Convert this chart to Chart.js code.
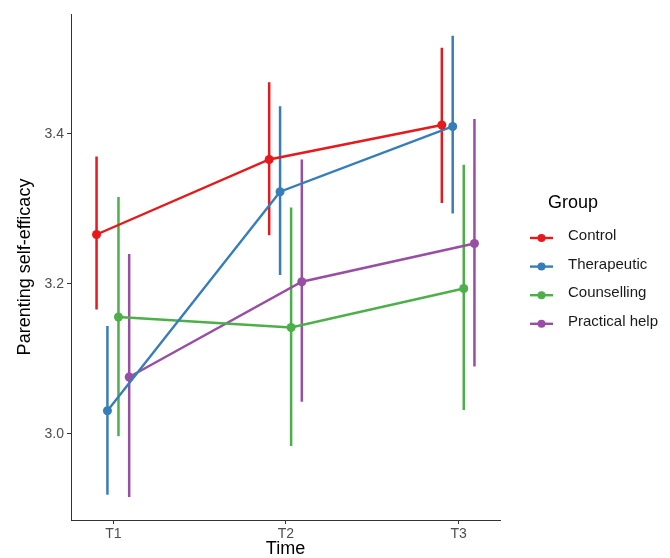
<!DOCTYPE html>
<html>
<head>
<meta charset="utf-8">
<script src="https://cdn.jsdelivr.net/npm/chart.js@4"></script>
<style>
  html, body { margin: 0; padding: 0; background: #fff; }
  #wrap { width: 670px; height: 558px; position: relative; }
</style>
</head>
<body>
<div id="wrap"><canvas id="chart" width="670" height="558"></canvas></div>
<script>
// ------------------ Data ------------------
const timeLabels = ['T1', 'T2', 'T3'];
const groups = ['Control', 'Therapeutic', 'Counselling', 'Practical help'];
const groupColors = ['#E41A1C', '#377EB8', '#4DAF4A', '#984EA3'];

const controlMean = [3.266, 3.366, 3.412];
const therapeuticMean = [3.031, 3.323, 3.410];
const counsellingMean = [3.156, 3.142, 3.194];
const practicalMean = [3.076, 3.203, 3.254];

const controlLow = [3.166, 3.265, 3.308];
const therapeuticLow = [2.919, 3.212, 3.294];
const counsellingLow = [2.997, 2.984, 3.032];
const practicalLow = [2.916, 3.043, 3.090];

const controlHigh = [3.370, 3.469, 3.515];
const therapeuticHigh = [3.144, 3.437, 3.531];
const counsellingHigh = [3.316, 3.302, 3.359];
const practicalHigh = [3.240, 3.366, 3.420];

const yTicks = [3.0, 3.2, 3.4];

const means = [controlMean, therapeuticMean, counsellingMean, practicalMean];
const lows = [controlLow, therapeuticLow, counsellingLow, practicalLow];
const highs = [controlHigh, therapeuticHigh, counsellingHigh, practicalHigh];

// dodge offsets (in category units) for each group
const dodge = [-0.097, -0.034, 0.03, 0.092];

const FONT = "'Liberation Sans', Arial, sans-serif";

// ------------------ Datasets ------------------
const datasets = groups.map(function(name, g) {
    return {
        label: name,
        data: means[g].map(function(v, i) {
            return { x: i + 1 + dodge[g], y: v, lo: lows[g][i], hi: highs[g][i] };
        }),
        borderColor: groupColors[g],
        backgroundColor: groupColors[g],
        borderWidth: 2.4,
        pointRadius: 4.5,
        pointHoverRadius: 4.5,
        pointBorderWidth: 0,
        tension: 0,
        showLine: true
    };
});

// ------------------ Plugins ------------------
const errorBars = {
    id: 'errorBars',
    beforeDatasetsDraw: function(chart) {
        const ctx = chart.ctx;
        const xs = chart.scales.x, ys = chart.scales.y;
        ctx.save();
        chart.data.datasets.forEach(function(ds) {
            ctx.strokeStyle = ds.borderColor;
            ctx.lineWidth = 2.5;
            ds.data.forEach(function(p) {
                const px = xs.getPixelForValue(p.x);
                ctx.beginPath();
                ctx.moveTo(px, ys.getPixelForValue(p.lo));
                ctx.lineTo(px, ys.getPixelForValue(p.hi));
                ctx.stroke();
            });
        });
        ctx.restore();
    }
};

const groupLegend = {
    id: 'groupLegend',
    afterDraw: function(chart) {
        const ctx = chart.ctx;
        const x0 = chart.chartArea.right + 30;
        ctx.save();
        ctx.fillStyle = '#000';
        ctx.textBaseline = 'middle';
        ctx.font = '18px ' + FONT;
        ctx.fillText('Group', x0 + 18, 203);
        ctx.font = '15px ' + FONT;
        chart.data.datasets.forEach(function(ds, i) {
            const y = 238 + i * 28.6;
            ctx.strokeStyle = ds.borderColor;
            ctx.lineWidth = 2.4;
            ctx.beginPath();
            ctx.moveTo(x0, y);
            ctx.lineTo(x0 + 23, y);
            ctx.stroke();
            ctx.fillStyle = ds.borderColor;
            ctx.beginPath();
            ctx.arc(x0 + 11.5, y, 4, 0, Math.PI * 2);
            ctx.fill();
            ctx.fillStyle = '#1a1a1a';
            ctx.fillText(ds.label, x0 + 38, y - 2);
        });
        ctx.restore();
    }
};

// ------------------ Chart ------------------
new Chart(document.getElementById('chart').getContext('2d'), {
    type: 'scatter',
    data: { datasets: datasets },
    plugins: [errorBars, groupLegend],
    options: {
        responsive: false,
        animation: false,
        layout: { padding: { left: 0, top: 14, right: 170, bottom: 0 } },
        plugins: {
            legend: { display: false },
            tooltip: { enabled: false }
        },
        scales: {
            x: {
                type: 'linear',
                min: 0.755,
                max: 3.24,
                afterBuildTicks: function(scale) {
                    scale.ticks = timeLabels.map(function(t, i) { return { value: i + 1 }; });
                },
                afterFit: function(scale) { scale.height = 38; },
                ticks: {
                    callback: function(v) { return timeLabels[Math.round(v) - 1]; },
                    color: '#4D4D4D',
                    font: { family: FONT, size: 14 },
                    padding: 2,
                    maxRotation: 0
                },
                grid: { drawOnChartArea: false, tickLength: 4, color: '#333333' },
                border: { color: '#333333', width: 1 },
                title: {
                    display: true,
                    text: 'Time',
                    color: '#000',
                    font: { family: FONT, size: 18, lineHeight: 1 },
                    padding: 0
                }
            },
            y: {
                min: 2.8853,
                max: 3.56,
                afterBuildTicks: function(scale) {
                    scale.ticks = yTicks.map(function(v) { return { value: v }; });
                },
                afterFit: function(scale) { scale.width = 71; },
                ticks: {
                    callback: function(v) { return v.toFixed(1); },
                    color: '#4D4D4D',
                    font: { family: FONT, size: 14 },
                    padding: 3
                },
                grid: { drawOnChartArea: false, tickLength: 4, color: '#333333' },
                border: { color: '#333333', width: 1 },
                title: {
                    display: true,
                    text: 'Parenting self-efficacy',
                    color: '#000',
                    font: { family: FONT, size: 18, lineHeight: 1 },
                    padding: { top: 16, bottom: 0 }
                }
            }
        }
    }
});
</script>
</body>
</html>
